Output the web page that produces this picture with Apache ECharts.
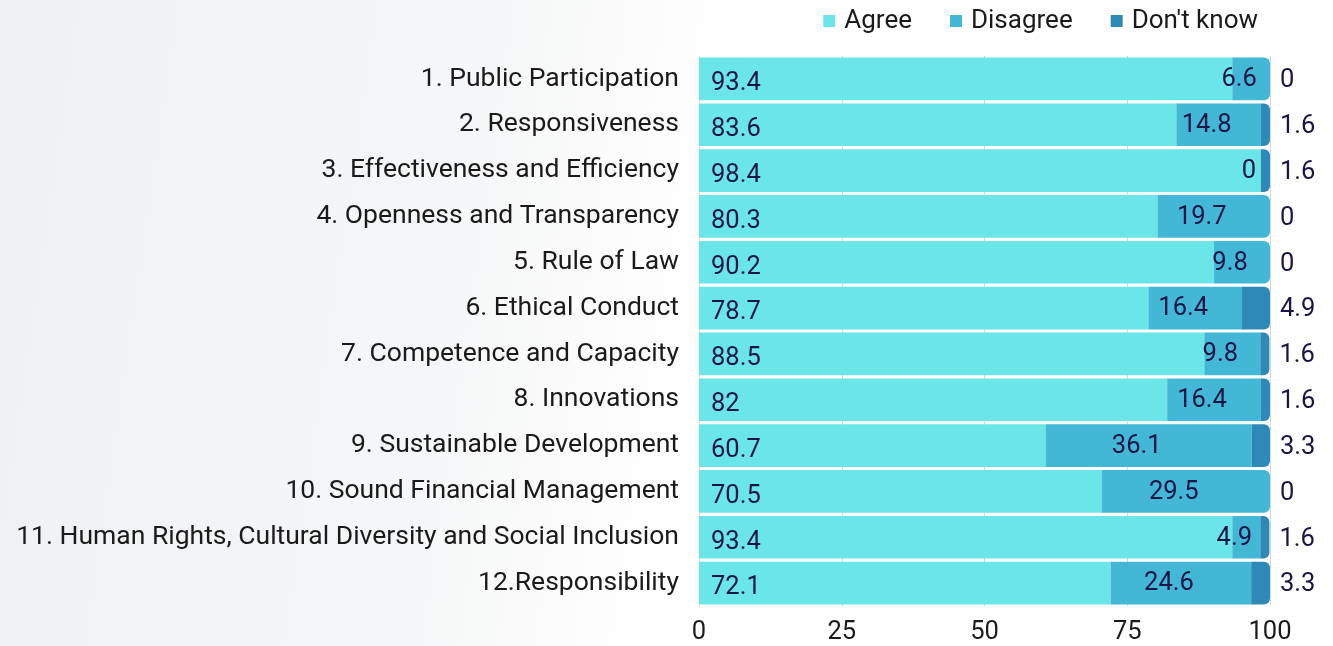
<!DOCTYPE html>
<html><head><meta charset="utf-8">
<script src="https://cdn.jsdelivr.net/npm/echarts@6/dist/echarts.min.js"></script>
<style>html,body{margin:0;padding:0;background:#fff}#c{width:1333px;height:646px}</style>
</head><body><div id="c"></div>
<script>
const categories = [
  "1. Public Participation",
  "2. Responsiveness",
  "3. Effectiveness and Efficiency",
  "4. Openness and Transparency",
  "5. Rule of Law",
  "6. Ethical Conduct",
  "7. Competence and Capacity",
  "8. Innovations",
  "9. Sustainable Development",
  "10. Sound Financial Management",
  "11. Human Rights, Cultural Diversity and Social Inclusion",
  "12.Responsibility"
];
const agree     = [93.4, 83.6, 98.4, 80.3, 90.2, 78.7, 88.5, 82, 60.7, 70.5, 93.4, 72.1];
const disagree  = [6.6, 14.8, 0, 19.7, 9.8, 16.4, 9.8, 16.4, 36.1, 29.5, 4.9, 24.6];
const dontKnow  = [0, 1.6, 1.6, 0, 0, 4.9, 1.6, 1.6, 3.3, 0, 1.6, 3.3];
const xTicks = [0, 25, 50, 75, 100];

const FONT = 'Roboto';
const LBL = '#1b1446';
const seriesVals = [agree, disagree, dontKnow];
// last non-zero segment in each row gets rounded right end
function lastIdx(i){ for (let s = 2; s >= 0; s--) if (seriesVals[s][i] > 0) return s; return 0; }
function mk(s){
  return seriesVals[s].map((v, i) => ({
    value: v,
    itemStyle: { borderRadius: lastIdx(i) === s ? [0, 6, 6, 0] : 0 }
  }));
}
const chart = echarts.init(document.getElementById('c'), null, {renderer: 'canvas'});
chart.setOption({
  backgroundColor: {
    type: 'linear', x: 0, y: 0, x2: 1, y2: 0.3,
    colorStops: [
      {offset: 0, color: '#eef0f1'},
      {offset: 0.35, color: '#f5f6f7'},
      {offset: 0.55, color: '#ffffff'},
      {offset: 1, color: '#ffffff'}
    ]
  },
  animation: false,
  textStyle: {fontFamily: FONT},
  legend: {
    top: 3, right: 70,
    itemWidth: 12, itemHeight: 12, itemGap: 38,
    icon: 'rect',
    textStyle: {fontFamily: FONT, fontSize: 26, color: '#1a1a1a', padding: [0, 0, 0, 4]},
    data: ['Agree', 'Disagree', "Don't know"]
  },
  grid: {left: 699, right: 63, top: 56, bottom: 37, containLabel: false},
  xAxis: {
    type: 'value', min: 0, max: 100, interval: 25,
    axisLine: {show: false}, axisTick: {show: false},
    splitLine: {show: true, lineStyle: {color: '#d9d9d9', width: 1}},
    axisLabel: {fontFamily: FONT, fontSize: 25.5, color: '#1a1a1a', margin: 14,
      formatter: v => xTicks.includes(v) ? String(v) : ''}
  },
  yAxis: {
    type: 'category', inverse: true, data: categories,
    axisLine: {show: false}, axisTick: {show: false},
    axisLabel: {fontFamily: FONT, fontSize: 26.5, color: '#1a1a1a', margin: 20,
      padding: [0, 0, -3, 0]}
  },
  series: [
    {
      name: 'Agree', type: 'bar', stack: 't', barCategoryGap: '7%',
      itemStyle: {color: '#6ae5e8'},
      label: {show: true, position: 'insideLeft', distance: 12, offset: [0, 5],
        fontFamily: FONT, fontSize: 25.5, color: LBL},
      data: mk(0)
    },
    {
      name: 'Disagree', type: 'bar', stack: 't',
      itemStyle: {color: '#42b8d6'},
      label: {show: true, position: 'inside', offset: [-12, 1],
        fontFamily: FONT, fontSize: 25.5, color: LBL},
      data: mk(1)
    },
    {
      name: "Don't know", type: 'bar', stack: 't',
      itemStyle: {color: '#2d8ab8'},
      label: {show: true, position: 'right', distance: 10, offset: [0, 2],
        fontFamily: FONT, fontSize: 25.5, color: LBL},
      data: mk(2)
    }
  ]
});
</script></body></html>
